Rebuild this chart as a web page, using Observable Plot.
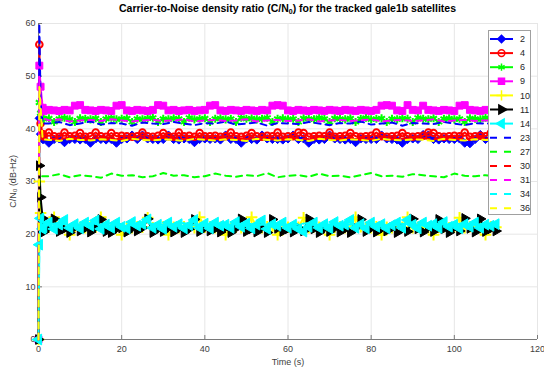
<!DOCTYPE html>
<html><head><meta charset="utf-8">
<script src="https://cdn.jsdelivr.net/npm/d3@7"></script>
<script src="https://cdn.jsdelivr.net/npm/@observablehq/plot@0.6"></script>
<style>
body{margin:0;background:#fff;font-family:"Liberation Sans",Arial,Helvetica,sans-serif;}
#wrap{position:relative;width:544px;height:371px;overflow:hidden;}
#title{position:absolute;left:38px;width:499px;top:2px;text-align:center;font-weight:bold;font-size:10.5px;color:#000;white-space:nowrap;}
#title sub{font-size:7px;vertical-align:-2px;line-height:0;}
#chart{position:absolute;left:0;top:0;}
#legend{position:absolute;left:488px;top:30px;}
</style></head><body>
<div id="wrap"><div id="chart"></div><div id="title">Carrier-to-Noise density ratio (C/N<sub>0</sub>) for the tracked gale1b satellites</div><div id="legend"></div></div>
<script>
// ---- data ----
// sample times (s) for the marker series
const timeFine = [0,0.2,0.5,1,
  1.25,2.5,3.75,5,6.25,7.5,8.75,10,
  11.25,12.5,13.75,15,16.25,17.5,18.75,20,
  21.25,22.5,23.75,25,26.25,27.5,28.75,30,
  31.25,32.5,33.75,35,36.25,37.5,38.75,40,
  41.25,42.5,43.75,45,46.25,47.5,48.75,50,
  51.25,52.5,53.75,55,56.25,57.5,58.75,60,
  61.25,62.5,63.75,65,66.25,67.5,68.75,70,
  71.25,72.5,73.75,75,76.25,77.5,78.75,80,
  81.25,82.5,83.75,85,86.25,87.5,88.75,90,
  91.25,92.5,93.75,95,96.25,97.5,98.75,100,
  101.25,102.5,103.75,105,106.25,107.5,108.75,110];
// sample times (s) for the dashed series
const time = [0,0.2,0.5,1,
  2.5,5,7.5,10, 12.5,15,17.5,20, 22.5,25,27.5,30, 32.5,35,37.5,40,
  42.5,45,47.5,50, 52.5,55,57.5,60, 62.5,65,67.5,70, 72.5,75,77.5,80,
  82.5,85,87.5,90, 92.5,95,97.5,100, 102.5,105,107.5,110];
const satellites = ["2","4","6","9","10","11","14","23","27","30","31","34","36"];

const sat2 = [0,42,39,38,
  38.0,37.3,38.0,38.1,37.4,38.0,38.0,37.9,
  38.0,37.3,38.1,38.0,37.9,38.0,37.3,38.0,
  38.1,38.8,38.0,38.8,38.1,38.0,37.9,38.0,
  38.8,38.0,37.9,38.1,38.0,37.4,38.0,38.1,
  38.0,38.1,37.9,38.8,38.0,38.0,37.3,38.1,
  38.0,37.9,38.8,38.1,38.0,38.0,37.9,38.1,
  38.8,38.0,38.1,37.3,38.0,37.9,38.0,38.8,
  38.1,38.0,37.9,38.0,37.4,38.1,38.0,38.0,
  38.0,38.8,38.1,38.0,37.9,37.3,38.0,38.1,
  38.0,38.9,38.8,38.0,37.9,38.1,38.0,38.0,
  38.1,37.3,37.2,38.0,38.9,38.0,38.1,38.0];
const sat4 = [0,56,41,39,
  38.6,39.3,38.6,38.5,39.3,38.6,38.7,39.2,
  38.5,38.6,39.3,38.6,38.5,39.2,38.6,38.7,
  38.6,38.5,38.6,39.3,38.6,38.5,38.7,39.2,
  38.6,38.5,39.3,38.6,38.7,38.5,39.2,38.6,
  38.6,38.7,38.5,38.6,39.3,38.6,38.5,38.7,
  39.2,38.6,38.5,38.7,38.6,39.3,38.5,38.6,
  38.6,39.3,39.2,38.5,38.6,38.7,38.6,39.3,
  38.5,38.6,38.7,39.2,38.6,38.5,38.6,38.7,
  39.3,38.6,38.5,38.6,38.7,39.2,38.6,38.5,
  38.6,38.7,39.3,39.2,38.6,38.5,38.6,38.7,
  38.6,39.3,38.5,38.6,38.7,38.6,39.2,38.6];
const sat6 = [0,45,43,42,
  41.9,42.0,41.3,41.9,42.1,41.8,41.3,42.0,
  41.9,41.8,42.0,41.3,41.9,42.1,41.8,41.9,
  42.0,41.3,41.9,41.8,42.0,42.1,41.3,41.9,
  41.8,42.0,41.9,41.3,42.1,41.8,41.9,42.0,
  41.3,41.9,42.0,41.8,41.9,41.3,42.1,41.9,
  42.0,41.8,41.9,42.1,41.3,41.9,42.0,41.8,
  41.9,41.3,42.0,41.9,41.8,42.1,41.9,41.3,
  42.0,41.9,41.8,42.0,41.3,41.9,42.1,41.8,
  41.9,42.0,41.3,41.9,41.8,42.0,41.9,41.3,
  42.1,41.9,41.8,42.0,41.3,41.9,42.0,41.8,
  41.9,41.3,42.0,41.9,41.8,42.1,41.9,42.0];
const sat9 = [0,52,48,44,
  43.4,43.6,43.5,43.4,43.6,43.5,44.4,44.5,
  43.6,43.5,43.4,43.6,43.5,43.4,44.4,44.5,
  43.5,43.4,43.6,43.5,43.4,43.6,44.5,44.4,
  43.5,43.6,43.4,43.5,43.6,43.4,43.5,43.6,
  44.4,44.5,43.5,43.4,43.6,43.5,43.4,43.6,
  43.5,43.4,43.6,43.5,44.4,44.5,44.4,43.5,
  43.4,43.6,43.5,43.4,43.6,43.5,43.4,43.6,
  43.5,43.4,43.6,43.5,43.4,43.6,43.5,43.4,
  43.6,44.4,44.5,44.4,43.5,43.4,44.5,43.6,
  43.5,44.4,43.6,43.5,43.4,43.6,43.5,43.4,
  44.4,44.5,43.6,43.5,43.4,43.6,43.5,43.5];
const sat10 = [0,30,24,22,
  21.3,21.4,23.2,21.2,21.3,19.9,21.4,21.3,
  21.2,21.4,21.3,23.2,21.3,21.2,21.4,19.9,
  21.3,21.2,21.4,21.3,23.1,21.2,21.3,21.4,
  19.9,21.3,21.2,21.4,21.3,21.2,23.2,21.3,
  21.4,21.2,21.3,19.9,21.4,21.3,21.2,21.4,
  23.2,21.3,21.2,21.4,21.3,19.9,21.2,21.3,
  21.4,21.3,23.1,21.2,21.4,21.3,21.2,19.9,
  21.3,21.4,21.2,21.3,23.2,21.4,21.3,21.2,
  21.4,19.9,21.3,21.2,21.4,21.3,23.2,21.2,
  21.3,21.4,21.2,19.9,21.3,21.4,21.2,21.3,
  23.1,21.2,21.4,21.3,21.2,19.9,21.4,21.3];
const sat11 = [0,33,27,23,
  20.4,21.2,22.9,20.5,21.0,20.3,21.3,20.6,
  21.1,20.4,21.2,22.8,20.5,20.3,21.0,21.2,
  20.4,21.1,20.6,21.2,22.9,20.3,21.0,20.5,
  21.2,20.4,21.1,20.3,21.0,22.8,20.5,21.2,
  20.6,21.0,20.4,21.2,20.3,21.1,22.9,20.5,
  21.0,20.4,21.2,20.3,22.8,21.1,20.5,21.0,
  20.4,21.2,20.6,22.9,21.0,20.3,21.1,20.5,
  21.2,20.4,21.0,20.3,21.2,22.8,20.5,21.1,
  20.4,21.0,20.6,21.2,20.3,21.1,20.5,22.9,
  21.0,20.4,21.2,20.5,22.8,21.0,20.3,21.2,
  20.6,23.0,21.1,20.4,22.9,20.5,21.0,20.6];
const sat14 = [0,18,23,21,
  21.3,22.2,21.0,21.8,22.7,21.2,21.9,21.1,
  22.2,21.6,22.6,21.0,21.8,21.2,22.2,21.4,
  21.1,22.3,21.6,21.9,22.8,21.2,21.8,21.0,
  22.2,21.4,21.9,21.1,21.7,22.7,21.2,22.0,
  21.1,22.2,21.6,21.8,21.2,22.3,21.4,22.0,
  21.1,21.8,22.6,21.0,21.9,21.6,22.2,21.2,
  21.8,21.0,20.5,21.4,22.2,21.2,21.9,21.1,
  22.3,21.6,21.8,22.7,21.2,21.9,21.1,22.2,
  21.4,21.9,21.1,21.7,22.2,21.2,22.7,21.8,
  21.1,22.2,21.6,21.9,21.2,22.3,21.4,21.8,
  21.1,21.9,21.4,22.2,21.2,21.8,21.6,21.9];
const sat23 = [0,60,45,41,
  41.0,41.3,40.7,41.0, 41.4,40.8,41.1,41.0, 40.6,41.2,41.0,40.9, 41.3,41.0,40.7,41.1,
  41.0,41.4,40.8,41.0, 41.2,40.6,41.1,41.0, 40.9,41.3,41.0,40.7, 41.1,41.0,41.4,40.8,
  41.0,41.2,40.6,41.1, 41.0,40.9,41.3,41.0, 40.7,41.1,41.0,41.0];
const sat27 = [0,30,31,31,
  31.0,31.4,30.8,31.2, 31.0,30.7,31.5,31.1, 31.2,30.8,31.0,31.6, 31.1,31.2,30.8,31.0,
  31.5,31.1,30.9,31.2, 31.0,31.6,30.8,31.1, 31.2,30.9,31.5,31.0, 31.1,30.8,31.2,31.6,
  31.0,31.1,30.9,31.4, 31.2,31.0,30.8,31.5, 31.1,31.0,31.2,31.0];
const sat30 = [0,40,39,38,
  38.2,38.0,38.4,38.2, 38.1,38.3,38.2,38.0, 38.4,38.2,38.1,38.3, 38.2,38.0,38.4,38.2,
  38.1,38.3,38.2,38.0, 38.4,38.2,38.1,38.3, 38.2,38.0,38.4,38.2, 38.1,38.3,38.2,38.0,
  38.4,38.2,38.1,38.3, 38.2,38.0,38.4,38.2, 38.1,38.3,38.2,38.2];
const sat31 = [0,50,45,42,
  41.6,41.8,41.4,41.6, 41.7,41.5,41.8,41.6, 41.4,41.6,41.7,41.5, 41.6,41.8,41.4,41.6,
  41.7,41.5,41.6,41.8, 41.4,41.6,41.7,41.5, 41.6,41.8,41.4,41.6, 41.7,41.5,41.6,41.8,
  41.4,41.6,41.7,41.5, 41.6,41.8,41.4,41.6, 41.7,41.5,41.6,41.6];
const sat34 = [0,19,22,21,
  21.9,22.1,21.7,21.9, 22.0,21.8,22.1,21.9, 21.7,21.9,22.0,21.8, 21.9,22.1,21.7,21.9,
  22.0,21.8,21.9,22.1, 21.7,21.9,22.0,21.8, 21.9,22.1,21.7,21.9, 22.0,21.8,21.9,22.1,
  21.7,21.9,22.0,21.8, 21.9,22.1,21.7,21.9, 22.0,21.8,21.9,21.9];
const sat36 = [0,48,44,38,
  37.9,37.7,38.1,37.9, 37.8,38.0,37.9,37.7, 38.1,37.9,37.8,38.0, 37.9,37.7,38.1,37.9,
  37.8,38.0,37.9,37.7, 38.1,37.9,37.8,38.0, 37.9,37.7,38.1,37.9, 37.8,38.0,37.9,37.7,
  38.1,37.9,37.8,38.0, 37.9,37.7,38.1,37.9, 37.8,38.0,37.9,37.9];
const xTicks = [0,20,40,60,80,100,120];
const yTicks = [0,10,20,30,40,50,60];

// ---- styles ----
const colors = ["#0000ff","#ff0000","#00ff00","#ff00ff","#ffff00","#000000","#00ffff",
                "#0000ff","#00ff00","#ff0000","#ff00ff","#00ffff","#ffff00"];
const symbols = ["diamond2","circle","asterisk","square","plus","triangle","triangle",null,null,null,null,null,null];
const symbolR = [3.8,3.3,3.8,3.9,3.8,3.6,4.0];
const rotations = [0,0,0,0,0,90,-90,0,0,0,0,0,0];
const filled = [true,false,false,true,false,true,true];
const dashed = [false,false,false,false,false,false,false,true,true,true,true,true,true];

const values = [sat2,sat4,sat6,sat9,sat10,sat11,sat14,sat23,sat27,sat30,sat31,sat34,sat36];
const times = satellites.map((s, i) => dashed[i] ? time : timeFine);
const rows = satellites.flatMap((s, i) => values[i].map((v, j) => ({sat: s, t: times[i][j], v})));

const seriesMarks = satellites.flatMap((s, i) => {
  const d = rows.filter(r => r.sat === s);
  const m = [Plot.line(d, {x: "t", y: "v", stroke: colors[i], strokeWidth: 2,
    strokeDasharray: dashed[i] ? "6,5" : null})];
  if (symbols[i]) m.push(Plot.dot(d, {x: "t", y: "v", symbol: symbols[i], r: symbolR[i],
    rotate: rotations[i], stroke: colors[i], strokeWidth: filled[i] ? 1 : 2,
    fill: filled[i] ? colors[i] : "none"}));
  return m;
});

const chart = Plot.plot({
  width: 544, height: 371,
  marginLeft: 38, marginRight: 7, marginTop: 23, marginBottom: 32,
  style: {fontFamily: "'Liberation Sans', Arial, sans-serif", fontSize: "9px", color: "#404040", background: "transparent"},
  x: {domain: [0, 120]},
  y: {domain: [0, 60]},
  marks: [
    Plot.gridX(xTicks, {stroke: "#e6e6e6", strokeOpacity: 1}),
    Plot.gridY(yTicks, {stroke: "#e6e6e6", strokeOpacity: 1}),
    Plot.ruleY([0], {stroke: "#7a7a7a"}),
    Plot.ruleX([0], {stroke: "#7a7a7a"}),
    Plot.axisX(xTicks, {tickSize: -4, tickPadding: 10, stroke: "#7a7a7a", label: "Time (s)", labelAnchor: "center", labelOffset: 25, labelArrow: "none"}),
    Plot.axisY(yTicks, {tickSize: -4, tickPadding: 7, stroke: "#7a7a7a", label: "C/N₀ (dB-Hz)", labelAnchor: "center", labelOffset: 29, labelArrow: "none"}),
    ...seriesMarks
  ]
});
document.getElementById("chart").append(chart);

// ---- legend ----
const symMap = {diamond2: d3.symbolDiamond2, circle: d3.symbolCircle, asterisk: d3.symbolAsterisk,
  square: d3.symbolSquare, plus: d3.symbolPlus, triangle: d3.symbolTriangle};
const lg = d3.select("#legend").append("svg").attr("width", 44).attr("height", 186)
  .style("font-family", "'Liberation Sans', Arial, sans-serif").style("font-size", "9px");
lg.append("rect").attr("x", 0.5).attr("y", 0.5).attr("width", 42).attr("height", 184)
  .attr("fill", "#fff").attr("stroke", "#a0a0a0");
satellites.forEach((s, i) => {
  const g = lg.append("g").attr("transform", `translate(0,${9 + i * 14.1})`);
  g.append("line").attr("x1", 2).attr("x2", 25).attr("stroke", colors[i]).attr("stroke-width", 2)
    .attr("stroke-dasharray", dashed[i] ? "7,7" : null);
  if (symbols[i]) g.append("path").attr("d", d3.symbol(symMap[symbols[i]], 36)())
    .attr("transform", `translate(13.5,0) rotate(${rotations[i]})`)
    .attr("fill", filled[i] ? colors[i] : "none").attr("stroke", colors[i]).attr("stroke-width", 1.5);
  g.append("text").attr("x", 32).attr("dy", "0.35em").attr("fill", "#262626").text(s);
});
</script>
</body></html>
